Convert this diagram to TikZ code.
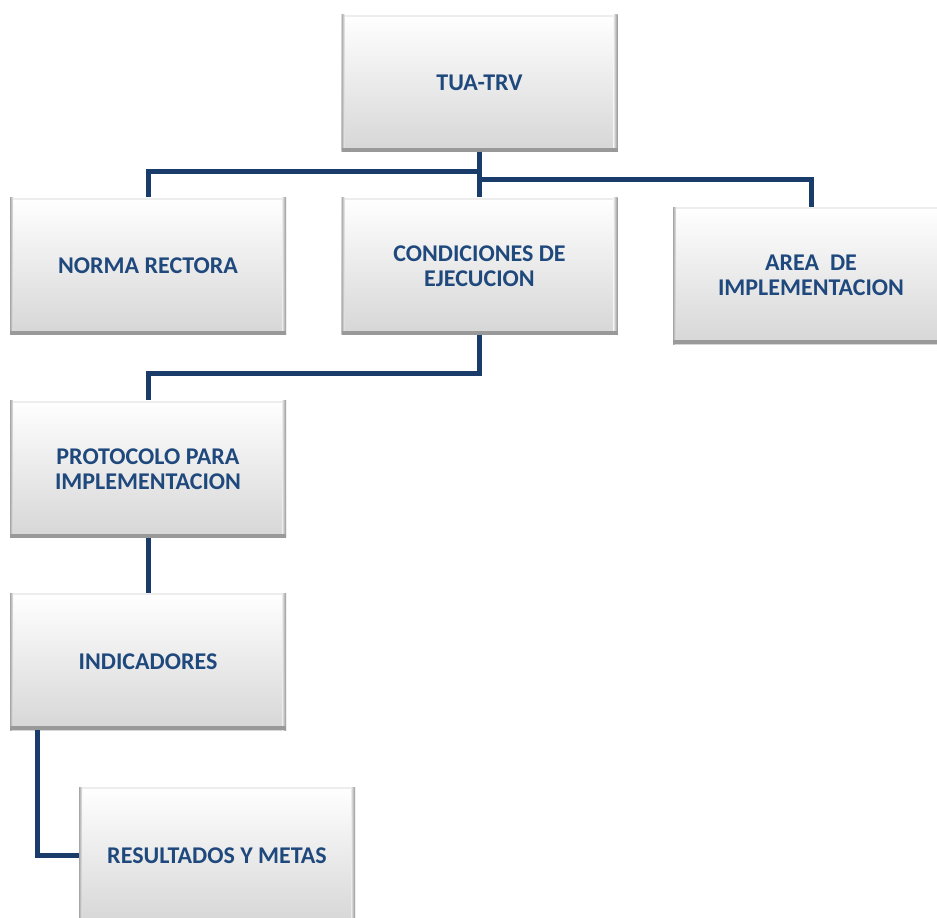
\documentclass[tikz,border=0pt]{standalone}
\usepackage{fontspec}
\setmainfont{Carlito}
\usepackage{xcolor}
\usepackage{tikz}
\usetikzlibrary{positioning}
\definecolor{txtblue}{RGB}{31,73,125}
\definecolor{linkblue}{RGB}{26,60,106}

\tikzset{
  box/.style={rectangle,minimum width=276pt,minimum height=137pt,inner sep=0pt,
    top color=white,middle color=black!3,bottom color=black!16,
    text=txtblue,font=\fontsize{24}{25}\selectfont\bfseries,align=center,
    path picture={
      \fill[black!7] ([yshift=-2pt]path picture bounding box.north west) rectangle (path picture bounding box.north east);
      \fill[left color=black!35,right color=black!8] (path picture bounding box.south west) rectangle ([xshift=3pt]path picture bounding box.north west);
      \fill[left color=black!8,right color=black!42] ([xshift=-4pt]path picture bounding box.south east) rectangle (path picture bounding box.north east);
      \fill[black!40] (path picture bounding box.south west) rectangle ([yshift=4pt]path picture bounding box.south east);
    }},
  link/.style={draw=linkblue,line width=5pt}
}

\begin{document}
\begin{tikzpicture}[x=1pt,y=-1pt,every node/.style={on grid}]
    \clip (0,0) rectangle (937,918);
    \node[box] (trv) at (479.5,83) {TUA-TRV};
    \node[box,below=183pt of trv] (cond) {CONDICIONES DE\\EJECUCION};
    \node[box,left=331.5pt of cond] (norma) {NORMA RECTORA};
    \node[box,right=331.5pt of cond,yshift=-9.5pt] (area) {AREA\ \ DE\\IMPLEMENTACION};
    \node[box,below=203pt of norma] (proto) {PROTOCOLO PARA\\IMPLEMENTACION};
    \node[box,below=192.5pt of proto] (indic) {INDICADORES};
    \node[box,below right=194pt and 69pt of indic] (result) {RESULTADOS Y METAS};
    \draw[link] (trv.south) -- ++(0,20) -| (norma.north);
    \draw[link] (trv.south) -- (cond.north);
    \draw[link] (trv.south) -- ++(0,28) -| (area.north);
    \draw[link] (cond.south) -- ++(0,39) -| (proto.north);
    \draw[link] (proto.south) -- (indic.north);
    \draw[link] ([xshift=28pt]indic.south west) |- (result.west);
  \end{tikzpicture}
\end{document}
